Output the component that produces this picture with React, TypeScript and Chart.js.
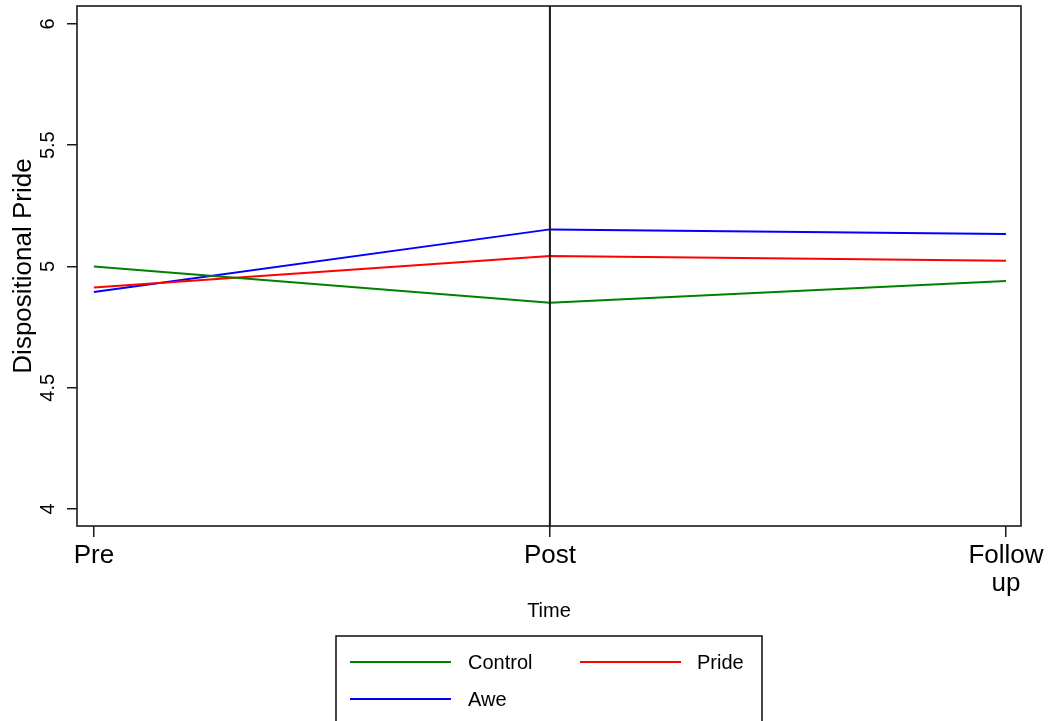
import React, { useEffect, useRef } from "react";
import { Chart, registerables } from "chart.js";

Chart.register(...registerables);

const categories: (string | string[])[] = ["Pre", "Post", ["Follow", "up"]];
const controlValues = [5.0, 4.85, 4.94];
const prideValues = [4.913, 5.043, 5.024];
const aweValues = [4.895, 5.153, 5.134];
const yTicks = [4, 4.5, 5, 5.5, 6];
const seriesNames = ["Control", "Pride", "Awe"];
const seriesColors = ["#008000", "#ff0000", "#0000ff"];

const FONT = "'Liberation Sans', Arial, Helvetica, sans-serif";

const framePlugin = {
  id: "framePlugin",
  afterDraw(chart: any) {
    const { ctx, chartArea } = chart;
    const xs = chart.scales.x;
    const ys = chart.scales.y;
    ctx.save();
    // reference line at Post
    const px = xs.getPixelForValue(1);
    ctx.strokeStyle = "#1a1a1a";
    ctx.lineWidth = 2;
    ctx.beginPath();
    ctx.moveTo(px, chartArea.top);
    ctx.lineTo(px, chartArea.bottom);
    ctx.stroke();
    // frame
    ctx.strokeStyle = "#1a1a1a";
    ctx.lineWidth = 1.6;
    ctx.strokeRect(chartArea.left, chartArea.top, chartArea.right - chartArea.left, chartArea.bottom - chartArea.top);
    // y tick labels rotated
    ctx.fillStyle = "#000";
    ctx.font = `20px ${FONT}`;
    ctx.textAlign = "center";
    ctx.textBaseline = "middle";
    ys.ticks.forEach((t: any) => {
      const y = ys.getPixelForValue(t.value);
      ctx.save();
      ctx.translate(48, y);
      ctx.rotate(-Math.PI / 2);
      ctx.fillText(String(t.value), 0, 0);
      ctx.restore();
    });
    // legend box
    const ds = chart.data.datasets;
    ctx.lineWidth = 1.6;
    ctx.strokeStyle = "#1a1a1a";
    ctx.strokeRect(336, 636, 426, 100);
    const slots = [
      { lx: 350, tx: 468, y: 662 },
      { lx: 580, tx: 697, y: 662 },
      { lx: 350, tx: 468, y: 699 },
    ];
    ctx.font = `20px ${FONT}`;
    ctx.textAlign = "left";
    ctx.textBaseline = "middle";
    ds.forEach((d: any, i: number) => {
      const s = slots[i];
      ctx.strokeStyle = d.borderColor;
      ctx.lineWidth = 2;
      ctx.beginPath();
      ctx.moveTo(s.lx, s.y);
      ctx.lineTo(s.lx + 101, s.y);
      ctx.stroke();
      ctx.fillStyle = "#000";
      ctx.fillText(d.label, s.tx, s.y + 1);
    });
    ctx.restore();
  },
};

export default function App() {
  const ref = useRef<HTMLCanvasElement | null>(null);
  useEffect(() => {
    document.body.style.margin = "0";
    const seriesValues = [controlValues, prideValues, aweValues];
    const chart = new Chart(ref.current!, {
      type: "line",
      data: {
        datasets: seriesValues.map((vals, i) => ({
          label: seriesNames[i],
          data: vals.map((v, j) => ({ x: j, y: v })),
          borderColor: seriesColors[i],
          backgroundColor: seriesColors[i],
          borderWidth: 2,
          pointRadius: 0,
          fill: false,
          tension: 0,
        })),
      },
      options: {
        responsive: false,
        animation: false,
        devicePixelRatio: 1,
        layout: { padding: { top: 6, right: 28, bottom: 100, left: 0 } },
        plugins: { legend: { display: false }, tooltip: { enabled: false } },
        scales: {
          x: {
            type: "linear",
            min: -0.037,
            max: 2.033,
            afterBuildTicks: (scale: any) => {
              scale.ticks = categories.map((_, i) => ({ value: i }));
            },
            afterFit: (scale: any) => {
              scale.height = 95;
            },
            border: { display: false },
            grid: {
              drawOnChartArea: false,
              drawTicks: true,
              tickLength: 11,
              color: "#1a1a1a",
              lineWidth: 1.5,
            },
            ticks: {
              autoSkip: false,
              maxRotation: 0,
              minRotation: 0,
              padding: 5,
              color: "#000",
              font: { family: FONT, size: 26, lineHeight: 1.07 },
              callback: (v: any) => categories[Math.round(Number(v))] as any,
            },
            title: {
              display: true,
              text: "Time",
              color: "#000",
              font: { family: FONT, size: 20, lineHeight: 1.0 },
              padding: { top: 0, bottom: 0 },
            },
          },
          y: {
            type: "linear",
            min: 3.93,
            max: 6.074,
            afterBuildTicks: (scale: any) => {
              scale.ticks = yTicks.map((v) => ({ value: v }));
            },
            afterFit: (scale: any) => {
              scale.width = 77;
            },
            border: { display: false },
            grid: {
              drawOnChartArea: false,
              drawTicks: true,
              tickLength: 10,
              color: "#1a1a1a",
              lineWidth: 1.5,
            },
            ticks: { display: false },
            title: {
              display: true,
              text: "Dispositional Pride",
              color: "#000",
              font: { family: FONT, size: 26, lineHeight: 1.2 },
              padding: { top: 8, bottom: 0 },
            },
          },
        },
      },
      plugins: [framePlugin],
    });
    return () => chart.destroy();
  }, []);
  return (
    <div style={{ position: "absolute", left: 0, top: 0, width: 1049, height: 721, background: "#fff" }}>
      <canvas ref={ref} width={1049} height={721} style={{ width: 1049, height: 721, display: "block" }} />
    </div>
  );
}
